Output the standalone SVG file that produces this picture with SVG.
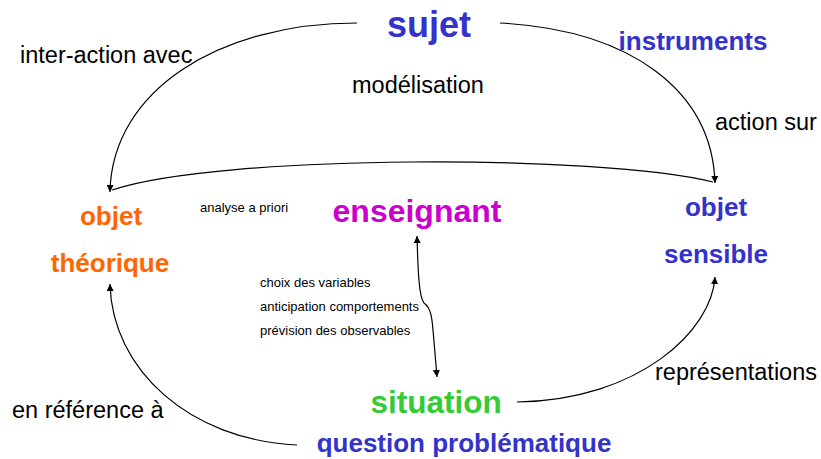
<svg xmlns="http://www.w3.org/2000/svg" width="821" height="459" viewBox="0 0 821 459">
<style>
text{font-family:"Liberation Sans",Arial,sans-serif}
.lbl{font-size:23.5px;fill:#000}
.sm{font-size:13px;fill:#000}
.b{font-weight:bold}
.blue{fill:#3333CC}
.orange{fill:#FF6600}
.mag{fill:#CC00CC}
.green{fill:#33CC33}
.c{stroke:#000;stroke-width:1.2;fill:none}
</style>
<defs>
<marker id="ah" viewBox="0 0 10 10" refX="10" refY="5" markerWidth="7" markerHeight="7" markerUnits="userSpaceOnUse" orient="auto-start-reverse">
<path d="M0,0 L10,5 L0,10 z" fill="#000"/>
</marker>
</defs>
<rect width="821" height="459" fill="#fff"/>
<g id="connectors">
<path class="c" d="M357,23 C220,23 112,90 110,192" marker-end="url(#ah)"/>
<path class="c" d="M500,23 C630,30 712,90 715,183" marker-end="url(#ah)"/>
<path class="c" d="M112,190 C220,154 600,154 713,182"/>
<path class="c" d="M417,236 C418,272 419,297 424,303 C431,308 432,318 433,330 L437,377" marker-start="url(#ah)" marker-end="url(#ah)"/>
<path class="c" d="M297,445 C190,440 112,370 110,284" marker-end="url(#ah)"/>
<path class="c" d="M517,402 C640,400 712,330 715,277" marker-end="url(#ah)"/>
</g>
<g id="sujet"><text x="429" y="37" text-anchor="middle" class="b blue" font-size="36">sujet</text></g>
<g id="instruments"><text x="693" y="50" text-anchor="middle" class="b blue" font-size="26">instruments</text></g>
<g id="objet-theorique">
<text x="111" y="225" text-anchor="middle" class="b orange" font-size="26">objet</text>
<text x="110" y="272" text-anchor="middle" class="b orange" font-size="26">théorique</text>
</g>
<g id="enseignant"><text x="417" y="222" text-anchor="middle" class="b mag" font-size="32">enseignant</text></g>
<g id="objet-sensible">
<text x="716" y="216" text-anchor="middle" class="b blue" font-size="26">objet</text>
<text x="716" y="263" text-anchor="middle" class="b blue" font-size="26">sensible</text>
</g>
<g id="situation">
<text x="436" y="413" text-anchor="middle" class="b green" font-size="31.5">situation</text>
<text x="464" y="452" text-anchor="middle" class="b blue" font-size="26">question problématique</text>
</g>
<g id="labels">
<text x="20" y="63" class="lbl">inter-action avec</text>
<text x="352" y="93" class="lbl">modélisation</text>
<text x="715" y="130" class="lbl">action sur</text>
<text x="200" y="212" class="sm">analyse a priori</text>
<text x="260" y="287" class="sm">choix des variables</text>
<text x="260" y="311" class="sm">anticipation comportements</text>
<text x="260" y="335" class="sm">prévision des observables</text>
<text x="655" y="380" class="lbl">représentations</text>
<text x="12" y="418" class="lbl">en référence à</text>
</g>
</svg>
